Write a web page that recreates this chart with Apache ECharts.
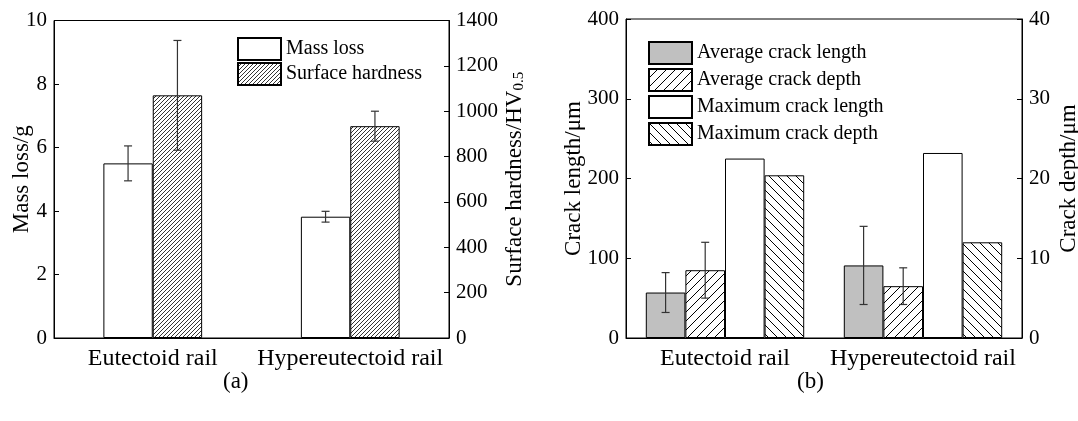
<!DOCTYPE html>
<html><head><meta charset="utf-8">
<script src="https://cdn.jsdelivr.net/npm/echarts@6/dist/echarts.min.js"></script>
<style>
html,body{margin:0;padding:0;background:#fff;}
#a{position:absolute;left:0;top:0;width:539px;height:421px;}
#b{position:absolute;left:539px;top:0;width:539px;height:421px;}
</style>
</head><body><div id="a"></div><div id="b"></div>
<script>
// ---- data ----
const categories = ['Eutectoid rail', 'Hypereutectoid rail'];
// panel (a)
const massLoss = [5.50, 3.82];
const massLossErr = [0.55, 0.17];
const hardness = [1070, 934];
const hardnessErr = [242, 66];
// panel (b)
const avgCrackLength = [57, 91];
const avgCrackLengthErr = [25, 49];
const avgCrackDepth = [8.5, 6.5];
const avgCrackDepthErr = [3.5, 2.3];
const maxCrackLength = [225, 232];
const maxCrackDepth = [20.4, 12.0];

const FONT = 'Liberation Serif';

function hatch(s, dir, lw) {
  const c = document.createElement('canvas');
  c.width = s; c.height = s;
  const g = c.getContext('2d');
  g.fillStyle = '#fff'; g.fillRect(0, 0, s, s);
  g.strokeStyle = '#000'; g.lineWidth = lw;
  g.beginPath();
  for (const k of [-s, 0, s]) {
    if (dir === '/') { g.moveTo(k, s); g.lineTo(k + s, 0); }
    else { g.moveTo(k, 0); g.lineTo(k + s, s); }
  }
  g.stroke();
  return { image: c, repeat: 'repeat' };
}

function errSeries(name, vals, errs, offsetFrac, yIdx) {
  return {
    type: 'custom', name: name, yAxisIndex: yIdx, z: 10,
    data: vals.map((v, i) => [i, v, errs[i]]),
    renderItem: function (params, api) {
      const x = api.value(0), v = api.value(1), e = api.value(2);
      const band = api.size([1, 0])[0];
      const t = api.coord([x, v + e]);
      const b = api.coord([x, v - e]);
      const cx = t[0] + offsetFrac * band;
      const cap = 4;
      const st = { stroke: '#333', lineWidth: 1.2 };
      return { type: 'group', children: [
        { type: 'line', shape: { x1: cx, y1: t[1], x2: cx, y2: b[1] }, style: st },
        { type: 'line', shape: { x1: cx - cap, y1: t[1], x2: cx + cap, y2: t[1] }, style: st },
        { type: 'line', shape: { x1: cx - cap, y1: b[1], x2: cx + cap, y2: b[1] }, style: st }
      ]};
    }
  };
}

function valueAxis(min, max, interval, name, nameGap, pos) {
  return {
    type: 'value', min: min, max: max, interval: interval, position: pos,
    name: name, nameLocation: 'middle', nameGap: nameGap, nameMoveOverlap: false,
    nameTextStyle: { fontFamily: FONT, fontSize: 23, color: '#000',
      rich: {
        a: { fontFamily: FONT, fontSize: 23, color: '#000' },
        s: { fontFamily: FONT, fontSize: 15, color: '#000', padding: [10, 0, 0, 0] }
      } },
    axisLine: { show: true, lineStyle: { color: '#000', width: 1 } },
    axisTick: { show: true, inside: true, length: 5, lineStyle: { color: '#000' } },
    axisLabel: { fontFamily: FONT, fontSize: 21, color: '#000', margin: 7, formatter: v => String(v) },
    splitLine: { show: false }
  };
}

const catAxis = {
  type: 'category', data: categories,
  axisLine: { lineStyle: { color: '#000', width: 1 } },
  axisTick: { show: false },
  axisLabel: { fontFamily: FONT, fontSize: 24, color: '#000', margin: 9, interval: 0 }
};

const barStyle = { borderColor: '#000', borderWidth: 1 };

// ---- panel (a) ----
const chartA = echarts.init(document.getElementById('a'));
chartA.setOption({
  animation: false,
  grid: { left: 54, right: 90, top: 20.5, bottom: 83, show: true, borderColor: '#000', borderWidth: 1,
    containLabel: false, outerBoundsMode: 'none' },
  xAxis: catAxis,
  yAxis: [
    valueAxis(0, 10, 2, 'Mass loss/g', 21, 'left'),
    valueAxis(0, 1400, 200, '{a|Surface hardness/HV}{s|0.5}', 53, 'right')
  ],
  legend: {
    data: ['Mass loss', 'Surface hardness'], orient: 'vertical',
    left: 232, top: 32, itemWidth: 43, itemHeight: 22, itemGap: 1,
    textStyle: { fontFamily: FONT, fontSize: 20, color: '#000' },
    icon: 'rect'
  },
  series: [
    { type: 'bar', name: 'Mass loss', data: massLoss, yAxisIndex: 0, barWidth: '25%', barGap: '0%',
      itemStyle: Object.assign({ color: '#fff' }, barStyle) },
    { type: 'bar', name: 'Surface hardness', data: hardness, yAxisIndex: 1, barWidth: '25%', barGap: '0%',
      itemStyle: Object.assign({ color: hatch(4, '/', 0.8) }, barStyle) },
    errSeries('e1', massLoss, massLossErr, -0.125, 0),
    errSeries('e2', hardness, hardnessErr, 0.125, 1)
  ],
  graphic: [{ type: 'text', left: 223, top: 370, style: { text: '(a)', fontFamily: FONT, fontSize: 23, fill: '#000' } }]
});

// ---- panel (b) ----
const chartB = echarts.init(document.getElementById('b'));
chartB.setOption({
  animation: false,
  grid: { left: 87, right: 56, top: 19, bottom: 83, show: true, borderColor: '#000', borderWidth: 1,
    containLabel: false, outerBoundsMode: 'none' },
  xAxis: catAxis,
  yAxis: [
    valueAxis(0, 400, 100, 'Crack length/\u03bcm', 41, 'left'),
    valueAxis(0, 40, 10, 'Crack depth/\u03bcm', 35, 'right')
  ],
  legend: {
    data: ['Average crack length', 'Average crack depth', 'Maximum crack length', 'Maximum crack depth'],
    orient: 'vertical', left: 104, top: 36, itemWidth: 43, itemHeight: 22, itemGap: 3,
    textStyle: { fontFamily: FONT, fontSize: 20, color: '#000' },
    icon: 'rect'
  },
  series: [
    { type: 'bar', name: 'Average crack length', data: avgCrackLength, yAxisIndex: 0, barWidth: '20%', barGap: '0%',
      itemStyle: Object.assign({ color: '#c0c0c0' }, barStyle) },
    { type: 'bar', name: 'Average crack depth', data: avgCrackDepth, yAxisIndex: 1, barWidth: '20%', barGap: '0%',
      itemStyle: Object.assign({ color: hatch(9, '/', 1) }, barStyle) },
    { type: 'bar', name: 'Maximum crack length', data: maxCrackLength, yAxisIndex: 0, barWidth: '20%', barGap: '0%',
      itemStyle: Object.assign({ color: '#fff' }, barStyle) },
    { type: 'bar', name: 'Maximum crack depth', data: maxCrackDepth, yAxisIndex: 1, barWidth: '20%', barGap: '0%',
      itemStyle: Object.assign({ color: hatch(9, '\\', 1) }, barStyle) },
    errSeries('e3', avgCrackLength, avgCrackLengthErr, -0.3, 0),
    errSeries('e4', avgCrackDepth, avgCrackDepthErr, -0.1, 1)
  ],
  graphic: [{ type: 'text', left: 258, top: 370, style: { text: '(b)', fontFamily: FONT, fontSize: 23, fill: '#000' } }]
});
</script>
</body></html>
